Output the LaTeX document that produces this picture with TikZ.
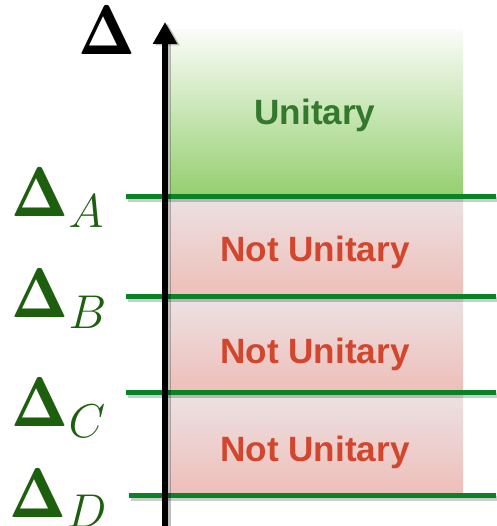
\documentclass[tikz,border=0pt]{standalone}
\usepackage{graphicx}
\usepackage[no-math]{fontspec}
\setsansfont{Liberation Sans}
\usetikzlibrary{arrows.meta,positioning}

\definecolor{levelgreen}{RGB}{10,130,40}
\definecolor{unigreen}{RGB}{50,120,45}
\definecolor{labgreen}{RGB}{30,95,15}
\definecolor{notred}{RGB}{210,70,45}
\definecolor{greentop}{RGB}{250,252,248}
\definecolor{greenbot}{RGB}{148,206,110}
\definecolor{pinktop}{RGB}{236,225,227}
\definecolor{pinkbot}{RGB}{238,190,184}

\newcommand{\bigdelta}{\mbox{\scalebox{1.0}[1.03]{\fontencoding{OT1}\fontfamily{cmr}\fontseries{b}\fontshape{n}\selectfont\char1}}}

\begin{document}
\begin{tikzpicture}[
            x=0.02cm, y=0.02cm,
            unibox/.style={top color=greentop, bottom color=greenbot, draw=none},
            notbox/.style={top color=pinktop, bottom color=pinkbot, draw=none},
            level/.style={draw=levelgreen, line width=0.1cm,
                preaction={draw=black, opacity=0.2, line width=0.1cm, transform canvas={xshift=0.03cm, yshift=-0.05cm}}},
            axis/.style={draw=black, line width=0.12cm, -{Triangle[length=0.44cm, width=0.46cm]},
                preaction={draw=black, opacity=0.25, line width=0.12cm, transform canvas={xshift=0.05cm, yshift=-0.03cm}}},
            dlabel/.style={labgreen, font=\LARGE, scale=2.25, inner sep=0pt, anchor=base west},
            state/.style={font={\sffamily\bfseries\fontsize{20}{24}\selectfont}, inner sep=0pt, anchor=base}
  ]

  \useasboundingbox (0,0) rectangle (496,526);

  % regions
  \shade[unibox] (170,329) rectangle (463,496);
  \shade[notbox] (170,229) rectangle (463,329);
  \shade[notbox] (170,133) rectangle (463,229);
  \shade[notbox] (170,30) rectangle (463,133);

  % levels
  \coordinate (la) at (126,329);  \coordinate (ra) at (496,329);
  \coordinate (lb) at (126,229);  \coordinate (rb) at (496,229);
  \coordinate (lc) at (126,133);  \coordinate (rc) at (496,133);
  \coordinate (ld) at (129,30);   \coordinate (rd) at (496,30);
  \draw[level] (la) -- (ra);
  \draw[level] (lb) -- (rb);
  \draw[level] (lc) -- (rc);
  \draw[level] (ld) -- (rd);

  % axis
  \coordinate (axbot) at (165,-2);
  \coordinate (axtop) at (165,504);
  \draw[axis] (axbot) -- (axtop);
  \node[dlabel, black] (delta) at (78,471) {$\bigdelta$};

  \node[dlabel] (deltaA) at (11,309) {$\bigdelta_A$};
  \node[dlabel] (deltaB) at (11,208) {$\bigdelta_B$};
  \node[dlabel] (deltaC) at (11,99) {$\bigdelta_C$};
  \node[dlabel] (deltaD) at (9,9) {$\bigdelta_D$};

  % texts
  \node[state, unigreen] (uni) at (315,401) {Unitary};
  \node[state, notred] (notab) at (315,264) {Not Unitary};
  \node[state, notred] (notbc) at (315,162) {Not Unitary};
  \node[state, notred] (notcd) at (315,64) {Not Unitary};

\end{tikzpicture}
\end{document}
